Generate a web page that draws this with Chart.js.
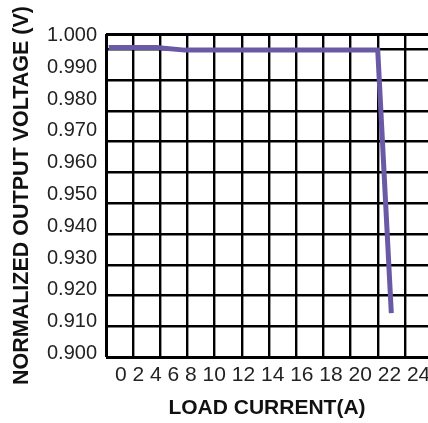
<!DOCTYPE html>
<html>
<head>
<meta charset="utf-8">
<script src="https://cdn.jsdelivr.net/npm/chart.js@4.4.1/dist/chart.umd.min.js"></script>
<style>
  html, body { margin: 0; padding: 0; background: #fff; }
  #wrap { width: 428px; height: 423px; position: relative; }
</style>
</head>
<body>
<div id="wrap"><canvas id="chart"></canvas></div>
<script>
// Load regulation: normalized output voltage vs load current.
const LOAD_CURRENT_A = [0.2, 3.7, 5.8, 20.0, 21.0];
const NORM_VOUT_V    = [0.9962, 0.9962, 0.9954, 0.9954, 0.9127];

const X_TICK_LABELS = ["0", "2", "4", "6", "8", "10", "12", "14", "16", "18", "20", "22", "24"];
const Y_TICK_VALUES = [0.900, 0.910, 0.920, 0.930, 0.940, 0.950, 0.960, 0.970, 0.980, 0.990, 1.000];

const INK = "#111", TICK_INK = "#222", GRID = "#000", TRACE = "#6a5aa6";
const FONT = "'Liberation Sans', Arial, sans-serif";

// The plot is cropped on the right; the ruled grid is not tied to the labels
// (10 full rows plus a half row at the top), so it gets its own hidden axis.
const X_MIN = 0, X_MAX = 23.7;
const Y_MIN = 0.89887, Y_MAX = 1.00047;
const GRID_ROWS = 10.5;

const frameWidth = (c, edges) => (c.tick && edges.includes(c.tick.value) ? 3 : 2.4);

new Chart(document.getElementById("chart").getContext("2d"), {
  type: "line",
  data: {
    datasets: [{
      data: LOAD_CURRENT_A.map((x, i) => ({ x, y: NORM_VOUT_V[i] })),
      xAxisID: "x", yAxisID: "y",
      borderColor: TRACE, borderWidth: 5, pointRadius: 0, tension: 0,
      borderCapStyle: "butt", borderJoinStyle: "miter",
    }],
  },
  options: {
    animation: false, responsive: true, maintainAspectRatio: false,
    layout: { padding: { top: 34, right: 0, bottom: 0, left: 0 } },
    plugins: { legend: { display: false }, tooltip: { enabled: false } },
    scales: {
      x: {
        type: "linear", position: "bottom", min: X_MIN, max: X_MAX,
        ticks: { display: false, stepSize: 2, includeBounds: false },
        grid: { color: GRID, drawTicks: false, lineWidth: c => frameWidth(c, [0]) },
        border: { display: false },
        afterFit: s => { s.height = 0; s.paddingLeft = 0; s.paddingRight = 0; },
      },
      // label row: the original sets the tick numbers as one run of text
      xl: {
        type: "linear", position: "bottom", min: X_MIN, max: X_MAX,
        afterBuildTicks: s => { s.ticks = [{ value: Number(X_TICK_LABELS[0]) }]; },
        ticks: {
          callback: () => X_TICK_LABELS.join(" "),
          align: "start", labelOffset: 9, maxRotation: 0, autoSkip: false, padding: 6,
          color: TICK_INK, font: { family: FONT, size: 21 },
        },
        grid: { display: false, drawTicks: false },
        border: { display: false },
        title: {
          display: true, text: "LOAD CURRENT(A)", color: INK,
          font: { family: FONT, size: 21, weight: "bold" }, padding: { top: 0, bottom: 2 },
        },
        afterFit: s => { s.height = 66; s.paddingLeft = 0; s.paddingRight = 0; },
      },
      y: {
        type: "linear", position: "left", min: Y_MIN, max: Y_MAX,
        afterBuildTicks: s => { s.ticks = Y_TICK_VALUES.map(v => ({ value: v })); },
        ticks: { callback: v => v.toFixed(3), padding: 9, color: TICK_INK, font: { family: FONT, size: 20 } },
        grid: { display: false, drawTicks: false },
        border: { display: false },
        title: {
          display: true, text: "NORMALIZED OUTPUT VOLTAGE (V)", color: INK,
          font: { family: FONT, size: 21.5, weight: "bold" }, padding: { top: 9, bottom: 0 },
        },
        afterFit: s => { s.width = 106; },
      },
      yg: {
        type: "linear", position: "left", min: 0, max: GRID_ROWS,
        afterBuildTicks: s => {
          const t = [];
          for (let i = 0; i <= Math.floor(GRID_ROWS); i++) t.push({ value: i });
          t.push({ value: GRID_ROWS });
          s.ticks = t;
        },
        ticks: { display: false },
        grid: { color: GRID, drawTicks: false, lineWidth: c => frameWidth(c, [0, GRID_ROWS]) },
        border: { display: false },
        afterFit: s => { s.width = 0; },
      },
    },
  },
});
</script>
</body>
</html>
